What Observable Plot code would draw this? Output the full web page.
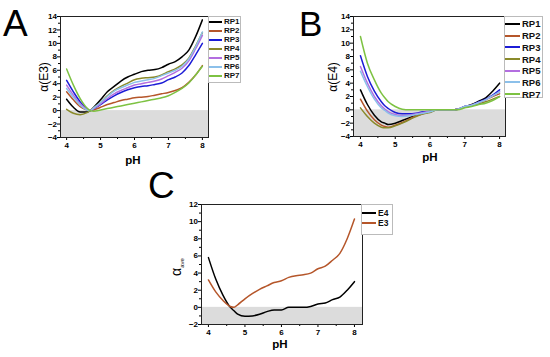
<!DOCTYPE html>
<html><head><meta charset="utf-8">
<script src="https://cdn.jsdelivr.net/npm/d3@7"></script>
<script src="https://cdn.jsdelivr.net/npm/@observablehq/plot@0.6"></script>
<style>
body{margin:0;background:#fff;width:550px;height:357px;overflow:hidden;position:relative;font-family:"Liberation Sans",Arial,sans-serif;}
.abs{position:absolute;}
.letter{position:absolute;font-size:36px;line-height:1;color:#000;}
.lbl{position:absolute;color:#000;white-space:nowrap;line-height:1;}
.leg{position:absolute;border:1px solid #bbb;background:#fff;box-sizing:border-box;}
.leg .row{position:absolute;left:0;display:flex;align-items:center;font-weight:bold;color:#111;}
.leg .ln{display:inline-block;height:2px;margin-right:2px;}
</style></head><body>
<script>
// ---------- data ----------
const pH = [4.0,4.2,4.4,4.6,4.7,4.8,5.0,5.2,5.4,5.6,5.8,6.0,6.2,6.4,6.6,6.8,7.0,7.2,7.4,7.6,7.8,8.0];
const xTicks = [4,5,6,7,8];
const seriesNames = ["RP1","RP2","RP3","RP4","RP5","RP6","RP7"];
const seriesColors = ["#000000","#b5562a","#1c1cd6","#8a8a2a","#b36ee0","#8cc0ea","#7dc242"];

// Panel A: alpha(E3)
const A_RP1 = [1.7,0.5,-0.2,-0.2,0,0.5,1.6,2.8,3.6,4.4,5.0,5.4,5.8,6.0,6.1,6.4,6.9,7.3,8.0,9.0,11.0,13.5];
const A_RP2 = [2.8,1.6,0.6,0.1,0,0.1,0.5,0.9,1.2,1.5,1.7,1.9,2.0,2.1,2.3,2.5,2.7,3.0,3.4,4.2,5.3,6.7];
const A_RP3 = [4.5,2.8,1.3,0.3,0,0.3,0.9,1.6,2.2,2.7,3.1,3.4,3.6,3.7,3.9,4.1,4.6,5.0,5.6,6.7,8.3,10.0];
const A_RP4 = [0.2,-0.4,-0.6,-0.3,0,0.4,1.2,2.2,3.0,3.6,4.1,4.6,4.8,4.9,5.0,5.3,5.8,6.2,6.8,7.8,9.6,11.6];
const A_RP5 = [3.8,2.3,1.0,0.2,0,0.3,1.0,1.8,2.5,3.0,3.4,3.8,4.0,4.2,4.4,4.7,5.2,5.7,6.3,7.4,9.2,11.2];
const A_RP6 = [3.3,2.0,0.8,0.1,0,0.4,1.2,2.1,2.9,3.4,3.8,4.2,4.4,4.6,4.8,5.2,5.6,6.0,6.6,7.7,9.5,11.7];
const A_RP7 = [6.2,3.8,1.8,0.4,0,-0.1,0.1,0.3,0.5,0.7,0.9,1.1,1.3,1.5,1.7,1.9,2.2,2.7,3.3,4.1,5.3,6.6];

// Panel B: alpha(E4)
const B_RP1 = [3.0,0.8,-0.8,-1.8,-2.0,-2.2,-2.0,-1.6,-1.2,-0.8,-0.5,-0.3,0,0,0,0.1,0.5,0.8,1.3,1.8,2.8,4.0];
const B_RP2 = [1.6,-0.2,-1.5,-2.3,-2.5,-2.6,-2.3,-1.9,-1.4,-0.9,-0.6,-0.3,0,0,0,0.1,0.4,0.7,1.1,1.5,2.0,2.4];
const B_RP3 = [8.1,5.0,2.8,1.2,0.6,0.2,-0.4,-0.6,-0.6,-0.5,-0.3,-0.2,0,0,0,0.1,0.5,0.7,1.2,1.6,2.2,3.0];
const B_RP4 = [0.3,-1.0,-2.0,-2.6,-2.7,-2.7,-2.4,-2.0,-1.5,-1.0,-0.6,-0.4,0,0,0,0.1,0.4,0.6,0.9,1.2,1.6,2.0];
const B_RP5 = [6.5,4.0,2.0,0.6,0.1,-0.3,-0.7,-0.9,-0.8,-0.6,-0.4,-0.2,0,0,0,0.1,0.5,0.7,1.1,1.5,2.1,2.7];
const B_RP6 = [5.8,3.5,1.6,0.3,-0.1,-0.5,-0.9,-1.0,-0.9,-0.7,-0.5,-0.3,0,0,0,0.1,0.5,0.7,1.1,1.5,2.1,2.7];
const B_RP7 = [11.0,7.0,4.5,2.5,1.8,1.2,0.5,0.1,0,0,0,0,0,0,0,0,0.3,0.5,0.8,1.0,1.4,2.0];

// Panel C: alpha_ave
const C_names = ["E4","E3"];
const C_colors = ["#000000","#b5562a"];
const C_E4 = [5.8,3.3,1.4,0.0,-0.4,-0.8,-1.05,-1.0,-0.8,-0.5,-0.3,-0.3,0,0,0,0.1,0.4,0.5,0.9,1.2,2.0,3.0];
const C_E3 = [3.2,1.8,0.8,0.1,0.0,0.3,1.0,1.6,2.1,2.5,2.9,3.1,3.5,3.7,3.8,4.0,4.5,4.8,5.5,6.3,8.0,10.3];

const A_vals = [A_RP1,A_RP2,A_RP3,A_RP4,A_RP5,A_RP6,A_RP7];
const B_vals = [B_RP1,B_RP2,B_RP3,B_RP4,B_RP5,B_RP6,B_RP7];
const C_vals = [C_E4,C_E3];

// ---------- helpers ----------
const FONT = "'Liberation Sans', Arial, sans-serif";
function panel({vals, colors, xDomain, yDomain, yTicks, width, height, mt, mb, ml, mr}) {
  const marks = [];
  const band = [{x1: xDomain[0], x2: xDomain[1], y1: 0, y2: yDomain[0]}];
  marks.push(Plot.rect(band, {x1: "x1", x2: "x2", y1: "y1", y2: "y2", fill: "#dcdcdc"}));
  vals.forEach((v, k) => {
    const data = pH.map((x, i) => ({x, y: v[i]}));
    marks.push(Plot.line(data, {x: "x", y: "y", stroke: colors[k], strokeWidth: 1.5, curve: "monotone-x"}));
  });
  const xMinor = d3.range(xTicks[0], xTicks[xTicks.length-1] + 0.01, 0.5).filter(t => !xTicks.includes(t));
  const yMinor = d3.range(yDomain[0], yDomain[1] + 0.01, 1).filter(t => !yTicks.includes(t));
  marks.push(Plot.axisX({ticks: xTicks, tickSize: 3, tickPadding: 2, tickFormat: d3.format("d"), label: null}));
  marks.push(Plot.axisX({ticks: xMinor, tickSize: 2, tickFormat: () => "", label: null}));
  marks.push(Plot.axisY({ticks: yTicks, tickSize: 3, tickPadding: 0.5, tickFormat: d3.format("d"), label: null}));
  marks.push(Plot.axisY({ticks: yMinor, tickSize: 2, tickFormat: () => "", label: null}));
  marks.push(Plot.frame({stroke: "#222", strokeWidth: 1}));
  return Plot.plot({
    width, height, marginTop: mt, marginBottom: mb, marginLeft: ml, marginRight: mr,
    x: {domain: xDomain}, y: {domain: yDomain},
    style: {fontFamily: FONT, fontSize: "8px", fontWeight: "bold", color: "#000", background: "transparent", overflow: "visible"},
    marks
  });
}
function place(el, left, top) {
  const d = document.createElement("div");
  d.className = "abs"; d.style.left = left + "px"; d.style.top = top + "px";
  d.appendChild(el); document.body.appendChild(d);
}
function text(html, cls, css) {
  const d = document.createElement("div");
  d.className = cls; d.innerHTML = html; Object.assign(d.style, css);
  document.body.appendChild(d); return d;
}
function legend(names, colors, {left, top, width, height, y0, dy, lineW, fs}) {
  const d = document.createElement("div");
  d.className = "leg";
  Object.assign(d.style, {left: left + "px", top: top + "px", width: width + "px", height: height + "px"});
  names.forEach((n, i) => {
    const r = document.createElement("div");
    r.className = "row";
    r.style.top = (y0 + i * dy - fs * 0.6) + "px";
    r.style.fontSize = fs + "px";
    r.style.height = (fs * 1.2) + "px";
    r.innerHTML = `<span class="ln" style="width:${lineW}px;background:${colors[i]}"></span>${n}`;
    d.appendChild(r);
  });
  document.body.appendChild(d);
}

// ---------- Panel A ----------
place(panel({vals: A_vals, colors: seriesColors, xDomain: [3.82, 8.18], yDomain: [-4, 14],
  yTicks: [-4,-2,0,2,4,6,8,10,12,14], width: 209, height: 170, mt: 16, mb: 33, ml: 60, mr: 1}), 0, 0);
legend(seriesNames, seriesColors, {left: 208, top: 16, width: 33, height: 67, y0: 5, dy: 9, lineW: 13, fs: 8});
text("A", "letter", {left: "3px", top: "5px", fontSize: "37px"});
text("α(E3)", "lbl", {left: "44px", top: "77px", fontSize: "12px", transform: "translate(-50%,-50%) rotate(-90deg)"});
text("pH", "lbl", {left: "133px", top: "161px", fontSize: "11.5px", fontWeight: "bold", transform: "translate(-50%,-50%)"});

// ---------- Panel B ----------
place(panel({vals: B_vals, colors: seriesColors, xDomain: [3.80, 8.17], yDomain: [-4, 14],
  yTicks: [-4,-2,0,2,4,6,8,10,12,14], width: 206, height: 170, mt: 16, mb: 34, ml: 53, mr: 1}), 300, 0);
legend(seriesNames, seriesColors, {left: 504, top: 16, width: 39, height: 82, y0: 7, dy: 11.7, lineW: 15, fs: 9.5});
text("B", "letter", {left: "299px", top: "6px", fontSize: "35px"});
text("α(E4)", "lbl", {left: "333px", top: "77px", fontSize: "12px", transform: "translate(-50%,-50%) rotate(-90deg)"});
text("pH", "lbl", {left: "430px", top: "158px", fontSize: "11.5px", fontWeight: "bold", transform: "translate(-50%,-50%)"});

// ---------- Panel C ----------
place(panel({vals: C_vals, colors: C_colors, xDomain: [3.81, 8.22], yDomain: [-2, 12],
  yTicks: [-2,0,2,4,6,8,10,12], width: 213, height: 177, mt: 24, mb: 33, ml: 51, mr: 1}), 150, 180);
legend(C_names, C_colors, {left: 361, top: 204, width: 32, height: 31, y0: 8, dy: 10, lineW: 14, fs: 8.5});
text("C", "letter", {left: "148px", top: "167px", fontSize: "37px"});
text("α<sub style='font-size:6px'>ave</sub>", "lbl", {left: "177px", top: "267px", fontSize: "14px", transform: "translate(-50%,-50%) rotate(-90deg)"});
text("pH", "lbl", {left: "280px", top: "345px", fontSize: "11.5px", fontWeight: "bold", transform: "translate(-50%,-50%)"});
</script>
</body></html>
